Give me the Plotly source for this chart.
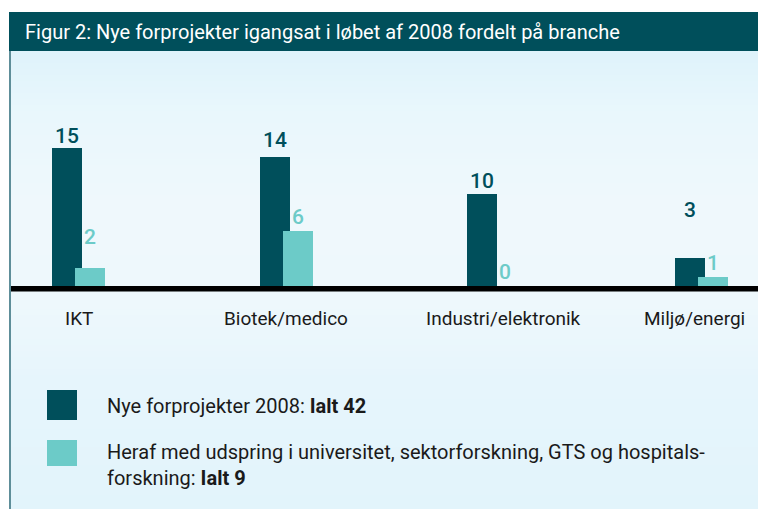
import plotly.graph_objects as go

# ---- data ----
categories = ["IKT", "Biotek/medico", "Industri/elektronik", "Miljø/energi"]
nye_forprojekter = [15, 14, 10, 3]
heraf_universitet = [2, 6, 0, 1]
legend_names = ["Nye forprojekter 2008: <b>Ialt 42</b>",
                "Heraf med udspring i universitet, sektorforskning, GTS og hospitals-<br>forskning: <b>Ialt 9</b>"]
title_text = "Figur 2: Nye forprojekter igangsat i løbet af 2008 fordelt på branche"

# ---- style ----
W, H = 758, 509
DARK = "#004f5b"
LIGHT = "#6ccbc8"
FONT = "Roboto, sans-serif"
TXT = "#1a1a1a"

def px(x):
    return x / W

def py(y):
    return 1 - y / H

# label lifts (pixels above bar tops) as in the original artwork
dark_lift = [12, 17, 13, 48]
light_lift = [31, 14, 14, 14]
# horizontal nudges of category labels as in the original artwork
cat_nudge = [0, 0, 10, -7]

fig = go.Figure()

bar_w = 30 / 207.7
half_shift = 11.5 / 207.7
fig.add_trace(go.Bar(x=categories, y=nye_forprojekter, marker_color=DARK,
                     marker_line_width=0, width=bar_w,
                     offset=-half_shift - bar_w / 2, showlegend=False,
                     hoverinfo="skip"))
fig.add_trace(go.Bar(x=categories, y=heraf_universitet, marker_color=LIGHT,
                     marker_line_width=0, width=bar_w,
                     offset=half_shift - bar_w / 2, showlegend=False,
                     hoverinfo="skip"))

annotations = []
for i, c in enumerate(categories):
    annotations.append(dict(x=c, y=nye_forprojekter[i], xref="x", yref="y",
                            text=str(nye_forprojekter[i]), showarrow=False,
                            xshift=-11.5, yshift=dark_lift[i],
                            font=dict(family=FONT, size=21, color=DARK, weight=500),
                            xanchor="center", yanchor="middle"))
    annotations.append(dict(x=c, y=heraf_universitet[i], xref="x", yref="y",
                            text=str(heraf_universitet[i]), showarrow=False,
                            xshift=11.5, yshift=light_lift[i],
                            font=dict(family=FONT, size=21, color=LIGHT, weight=500),
                            xanchor="center", yanchor="middle"))
    annotations.append(dict(x=c, y=py(318), xref="x", yref="paper",
                            text=c, showarrow=False, xshift=cat_nudge[i],
                            font=dict(family=FONT, size=19, color=TXT),
                            xanchor="center", yanchor="middle"))

# title
annotations.append(dict(x=px(23), y=py(31.5), xref="paper", yref="paper",
                        text=title_text, showarrow=False, xanchor="left",
                        yanchor="middle",
                        font=dict(family=FONT, size=20, color="white")))
# legend texts
annotations.append(dict(x=px(105), y=py(406), xref="paper", yref="paper",
                        text=legend_names[0], showarrow=False, xanchor="left",
                        yanchor="middle", align="left",
                        font=dict(family=FONT, size=20, color=TXT)))
annotations.append(dict(x=px(105), y=py(465), xref="paper", yref="paper",
                        text=legend_names[1], showarrow=False, xanchor="left",
                        yanchor="middle", align="left",
                        font=dict(family=FONT, size=20, color=TXT)))

shapes = []
# background gradient stripes
stops = [(51, (223, 243, 251)), (110, (233, 247, 252)), (200, (239, 248, 252)),
         (300, (238, 248, 252)), (380, (230, 245, 252)), (509, (226, 244, 251))]
y = 51
step = 6
while y < H:
    for k in range(len(stops) - 1):
        if stops[k][0] <= y <= stops[k + 1][0]:
            t = (y - stops[k][0]) / (stops[k + 1][0] - stops[k][0])
            col = tuple(round(stops[k][1][j] + t * (stops[k + 1][1][j] - stops[k][1][j])) for j in range(3))
            break
    shapes.append(dict(type="rect", xref="paper", yref="paper", x0=px(10), x1=1,
                       y0=py(min(y + step, H)), y1=py(y), fillcolor="rgb(%d,%d,%d)" % col,
                       line_width=0, layer="below"))
    y += step
# title bar
shapes.append(dict(type="rect", xref="paper", yref="paper", x0=px(9), x1=1,
                   y0=py(51), y1=py(12), fillcolor=DARK, line_width=0, layer="below"))
# left border
shapes.append(dict(type="line", xref="paper", yref="paper", x0=px(10), x1=px(10),
                   y0=py(51), y1=0, line=dict(color="#5e8e99", width=2), layer="above"))
# baseline
shapes.append(dict(type="rect", xref="paper", yref="paper", x0=px(11), x1=1,
                   y0=py(291.5), y1=py(286), fillcolor="black", line_width=0, layer="above"))
# legend keys
shapes.append(dict(type="rect", xref="paper", yref="paper", x0=px(47), x1=px(77),
                   y0=py(420), y1=py(390), fillcolor=DARK, line_width=0))
shapes.append(dict(type="rect", xref="paper", yref="paper", x0=px(47), x1=px(77),
                   y0=py(466), y1=py(440), fillcolor=LIGHT, line_width=0))

fig.update_layout(
    width=W, height=H,
    margin=dict(l=0, r=0, t=0, b=0),
    paper_bgcolor="white", plot_bgcolor="rgba(0,0,0,0)",
    barmode="overlay", bargap=0,
    shapes=shapes, annotations=annotations,
    xaxis=dict(domain=[px(10), 1], range=[-0.33, 3.271], showgrid=False,
               zeroline=False, showline=False, ticks="", showticklabels=False),
    yaxis=dict(domain=[py(286), py(102)], range=[0, 20], visible=False),
    showlegend=False,
)

fig.write_html("out.html", config={"displayModeBar": False},
               post_script="document.body.style.margin='0';document.body.style.overflow='hidden';")
